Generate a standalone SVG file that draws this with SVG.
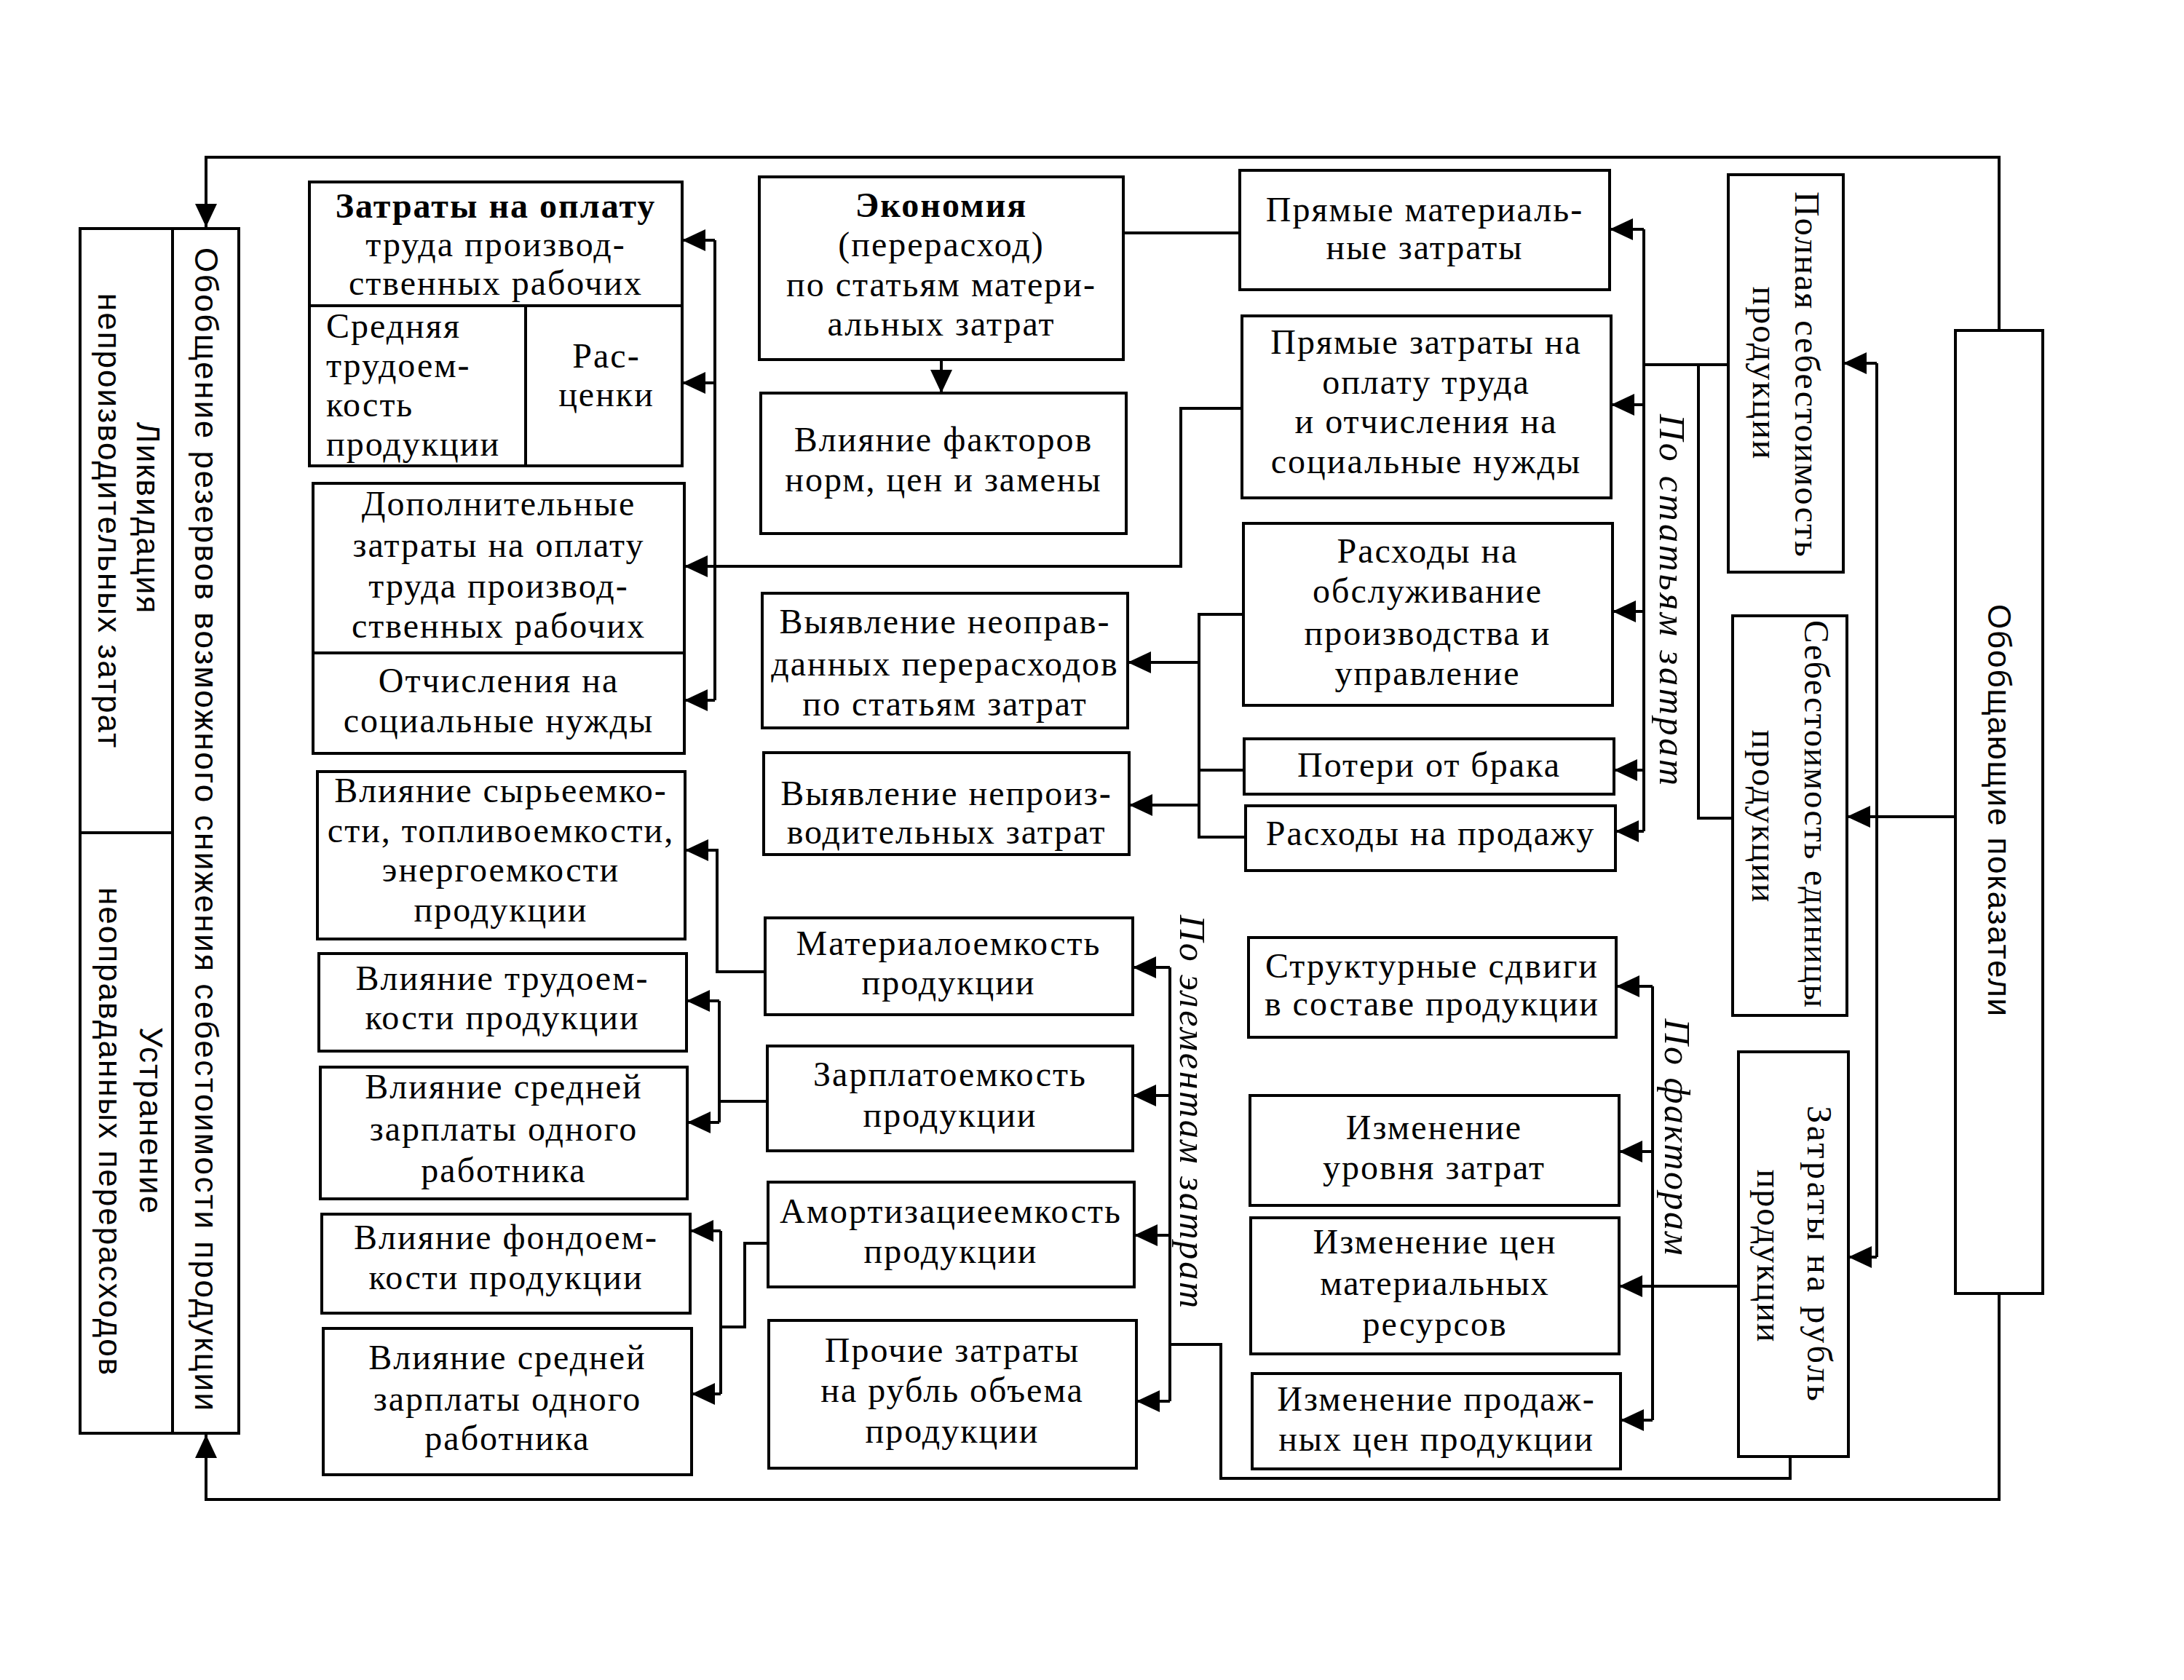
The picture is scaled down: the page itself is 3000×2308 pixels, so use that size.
<svg xmlns="http://www.w3.org/2000/svg" width="3000" height="2308" viewBox="0 0 3000 2308">
<defs>
<marker id="ar" viewBox="0 0 32 30" refX="32" refY="15" markerWidth="32" markerHeight="30" markerUnits="userSpaceOnUse" orient="auto">
<path d="M0,0 L32,15 L0,30 Z" fill="#000"/>
</marker>
<style>
.b{fill:#fff;stroke:#000;stroke-width:4}
.t{font-family:"Liberation Serif",serif;font-size:48px;letter-spacing:2px;text-anchor:middle;dominant-baseline:central;fill:#000}
.tb{font-weight:bold}
.tl{text-anchor:start}
.s{font-family:"Liberation Sans",sans-serif;font-size:44px;letter-spacing:2px;text-anchor:middle;dominant-baseline:central;fill:#000}
.i{font-family:"Liberation Serif",serif;font-style:italic;font-size:50px;text-anchor:middle;dominant-baseline:central;fill:#000}
.c{fill:none;stroke:#000;stroke-width:4}
.a{marker-end:url(#ar)}
</style>
</defs>
<rect width="3000" height="2308" fill="#fff"/>

<g id="connectors">
<path class="c" d="M2746,454 V216 H283 V312" stroke-width="5"/>
<path class="c a" d="M283,260 V312"/>
<path class="c a" d="M2746,1777 V2060 H283 V1971"/>
<path class="c a" d="M1293,494 V540"/>
<path class="c" d="M1543,320 H1703"/>
<path class="c a" d="M1706,561 H1622 V778 H940"/>
<path class="c" d="M982,330 V962"/>
<path class="c a" d="M982,330 H937"/>
<path class="c a" d="M982,526 H937"/>
<path class="c a" d="M982,962 H940"/>
<path class="c a" d="M1051,1335 H985 V1168 H941"/>
<path class="c" d="M1054,1513 H988"/>
<path class="c" d="M988,1375 V1542"/>
<path class="c a" d="M988,1375 H943"/>
<path class="c a" d="M988,1542 H944"/>
<path class="c" d="M1055,1708 H1023 V1823 H990"/>
<path class="c" d="M990,1691 V1915"/>
<path class="c a" d="M990,1691 H948"/>
<path class="c a" d="M990,1915 H950"/>
<path class="c" d="M1708,844 H1647 V1150 H1711"/>
<path class="c" d="M1709,1058 H1647"/>
<path class="c a" d="M1647,910 H1549"/>
<path class="c a" d="M1647,1106 H1551"/>
<path class="c" d="M2258,315 V1142"/>
<path class="c a" d="M2258,315 H2211"/>
<path class="c a" d="M2258,556 H2213"/>
<path class="c a" d="M2258,840 H2215"/>
<path class="c a" d="M2258,1058 H2217"/>
<path class="c a" d="M2258,1142 H2219"/>
<path class="c" d="M2376,501 H2258"/>
<path class="c" d="M2380,1124 H2333 V501"/>
<path class="c" d="M2578,499 V1727"/>
<path class="c a" d="M2578,499 H2532"/>
<path class="c a" d="M2578,1727 H2539"/>
<path class="c a" d="M2686,1122 H2537"/>
<path class="c" d="M2270,1355 V1951"/>
<path class="c a" d="M2270,1355 H2220"/>
<path class="c a" d="M2270,1582 H2224"/>
<path class="c a" d="M2388,1767 H2224"/>
<path class="c a" d="M2270,1951 H2226"/>
<path class="c" d="M2459,2001 V2031 H1677 V1847 H1607"/>
<path class="c" d="M1607,1329 V1925"/>
<path class="c a" d="M1607,1329 H1556"/>
<path class="c a" d="M1607,1505 H1556"/>
<path class="c a" d="M1607,1697 H1558"/>
<path class="c a" d="M1607,1925 H1561"/>
</g>

<g id="labels">
<text class="i" x="2297" y="824" transform="rotate(90 2297 824)" textLength="510" lengthAdjust="spacing">По статьям затрат</text>
<text class="i" x="2304" y="1562" transform="rotate(90 2304 1562)" textLength="325" lengthAdjust="spacing">По факторам</text>
<text class="i" x="1638" y="1527" transform="rotate(90 1638 1527)" textLength="540" lengthAdjust="spacing">По элементам затрат</text>
</g>

<g id="n-likvidaciya">
<rect class="b" x="110" y="314" width="127" height="830"/>
<text class="s" x="203" y="712" transform="rotate(90 203 712)">Ликвидация</text>
<text class="s" x="150" y="716" transform="rotate(90 150 716)">непроизводительных затрат</text>
</g>
<g id="n-ustranenie">
<rect class="b" x="110" y="1144" width="127" height="825"/>
<text class="s" x="207" y="1540" transform="rotate(90 207 1540)">Устранение</text>
<text class="s" x="151" y="1555" transform="rotate(90 151 1555)">неоправданных перерасходов</text>
</g>
<g id="n-obobshenie">
<rect class="b" x="237" y="314" width="91" height="1655"/>
<text class="s" x="283" y="1140" transform="rotate(90 283 1140)" textLength="1600" lengthAdjust="spacing">Обобщение резервов возможного снижения себестоимости продукции</text>
</g>

<g id="n-zatraty-oplata">
<rect class="b" x="425" y="250" width="512" height="170"/>
<text class="t tb" x="681" y="282">Затраты на оплату</text>
<text class="t" x="681" y="335">труда производ-</text>
<text class="t" x="681" y="388">ственных рабочих</text>
</g>
<g id="n-srednyaya-trudoemkost">
<rect class="b" x="425" y="420" width="297" height="220"/>
<text class="t tl" x="448" y="447">Средняя</text>
<text class="t tl" x="448" y="501">трудоем-</text>
<text class="t tl" x="448" y="555">кость</text>
<text class="t tl" x="448" y="609">продукции</text>
</g>
<g id="n-rascenki">
<rect class="b" x="722" y="420" width="215" height="220"/>
<text class="t" x="833" y="488">Рас-</text>
<text class="t" x="833" y="541">ценки</text>
</g>
<g id="n-dopolnitelnye">
<rect class="b" x="430" y="664" width="510" height="233"/>
<text class="t" x="685" y="691">Дополнительные</text>
<text class="t" x="685" y="748">затраты на оплату</text>
<text class="t" x="685" y="804">труда производ-</text>
<text class="t" x="685" y="859">ственных рабочих</text>
</g>
<g id="n-otchisleniya">
<rect class="b" x="430" y="897" width="510" height="138"/>
<text class="t" x="685" y="934">Отчисления на</text>
<text class="t" x="685" y="989">социальные нужды</text>
</g>
<g id="n-syrieemkost">
<rect class="b" x="436" y="1060" width="505" height="230"/>
<text class="t" x="688" y="1085">Влияние сырьеемко-</text>
<text class="t" x="688" y="1140">сти, топливоемкости,</text>
<text class="t" x="688" y="1194">энергоемкости</text>
<text class="t" x="688" y="1249">продукции</text>
</g>
<g id="n-trudoemkost">
<rect class="b" x="438" y="1310" width="505" height="134"/>
<text class="t" x="690" y="1343">Влияние трудоем-</text>
<text class="t" x="690" y="1397">кости продукции</text>
</g>
<g id="n-zarplata1">
<rect class="b" x="440" y="1466" width="504" height="181"/>
<text class="t" x="692" y="1492">Влияние средней</text>
<text class="t" x="692" y="1550">зарплаты одного</text>
<text class="t" x="692" y="1607">работника</text>
</g>
<g id="n-fondoemkost">
<rect class="b" x="442" y="1668" width="506" height="136"/>
<text class="t" x="695" y="1699">Влияние фондоем-</text>
<text class="t" x="695" y="1754">кости продукции</text>
</g>
<g id="n-zarplata2">
<rect class="b" x="444" y="1825" width="506" height="201"/>
<text class="t" x="697" y="1864">Влияние средней</text>
<text class="t" x="697" y="1921">зарплаты одного</text>
<text class="t" x="697" y="1975">работника</text>
</g>

<g id="n-ekonomiya">
<rect class="b" x="1043" y="243" width="500" height="251"/>
<text class="t tb" x="1293" y="281">Экономия</text>
<text class="t" x="1293" y="335">(перерасход)</text>
<text class="t" x="1293" y="390">по статьям матери-</text>
<text class="t" x="1293" y="444">альных затрат</text>
</g>
<g id="n-vliyanie-faktorov">
<rect class="b" x="1045" y="540" width="502" height="193"/>
<text class="t" x="1296" y="603">Влияние факторов</text>
<text class="t" x="1296" y="658">норм, цен и замены</text>
</g>
<g id="n-neopravdannye">
<rect class="b" x="1047" y="815" width="502" height="185"/>
<text class="t" x="1298" y="853">Выявление неоправ-</text>
<text class="t" x="1298" y="911">данных перерасходов</text>
<text class="t" x="1298" y="966">по статьям затрат</text>
</g>
<g id="n-neproizvoditelnye">
<rect class="b" x="1049" y="1034" width="502" height="140"/>
<text class="t" x="1300" y="1089">Выявление непроиз-</text>
<text class="t" x="1300" y="1142">водительных затрат</text>
</g>
<g id="n-materialoemkost">
<rect class="b" x="1051" y="1261" width="505" height="133"/>
<text class="t" x="1303" y="1295">Материалоемкость</text>
<text class="t" x="1303" y="1349">продукции</text>
</g>
<g id="n-zarplatoemkost">
<rect class="b" x="1054" y="1437" width="502" height="144"/>
<text class="t" x="1305" y="1475">Зарплатоемкость</text>
<text class="t" x="1305" y="1531">продукции</text>
</g>
<g id="n-amortizacieemkost">
<rect class="b" x="1055" y="1624" width="503" height="144"/>
<text class="t" x="1306" y="1663">Амортизациеемкость</text>
<text class="t" x="1306" y="1718">продукции</text>
</g>
<g id="n-prochie">
<rect class="b" x="1056" y="1814" width="505" height="203"/>
<text class="t" x="1308" y="1854">Прочие затраты</text>
<text class="t" x="1308" y="1909">на рубль объема</text>
<text class="t" x="1308" y="1965">продукции</text>
</g>

<g id="n-pryamye-materialnye">
<rect class="b" x="1703" y="234" width="508" height="164"/>
<text class="t" x="1957" y="287">Прямые материаль-</text>
<text class="t" x="1957" y="339">ные затраты</text>
</g>
<g id="n-pryamye-oplata">
<rect class="b" x="1706" y="434" width="507" height="250"/>
<text class="t" x="1959" y="469">Прямые затраты на</text>
<text class="t" x="1959" y="524">оплату труда</text>
<text class="t" x="1959" y="578">и отчисления на</text>
<text class="t" x="1959" y="633">социальные нужды</text>
</g>
<g id="n-obsluzhivanie">
<rect class="b" x="1708" y="719" width="507" height="250"/>
<text class="t" x="1961" y="756">Расходы на</text>
<text class="t" x="1961" y="811">обслуживание</text>
<text class="t" x="1961" y="869">производства и</text>
<text class="t" x="1961" y="924">управление</text>
</g>
<g id="n-poteri">
<rect class="b" x="1709" y="1015" width="508" height="76"/>
<text class="t" x="1963" y="1050">Потери от брака</text>
</g>
<g id="n-prodazha">
<rect class="b" x="1711" y="1107" width="508" height="89"/>
<text class="t" x="1965" y="1144">Расходы на продажу</text>
</g>
<g id="n-strukturnye">
<rect class="b" x="1715" y="1288" width="505" height="137"/>
<text class="t" x="1967" y="1326">Структурные сдвиги</text>
<text class="t" x="1967" y="1378">в составе продукции</text>
</g>
<g id="n-uroven">
<rect class="b" x="1717" y="1505" width="507" height="151"/>
<text class="t" x="1970" y="1548">Изменение</text>
<text class="t" x="1970" y="1603">уровня затрат</text>
</g>
<g id="n-ceny-resursov">
<rect class="b" x="1718" y="1673" width="506" height="187"/>
<text class="t" x="1971" y="1705">Изменение цен</text>
<text class="t" x="1971" y="1762">материальных</text>
<text class="t" x="1971" y="1818">ресурсов</text>
</g>
<g id="n-prodazhnye-ceny">
<rect class="b" x="1720" y="1887" width="506" height="131"/>
<text class="t" x="1973" y="1921">Изменение продаж-</text>
<text class="t" x="1973" y="1976">ных цен продукции</text>
</g>

<g id="n-polnaya">
<rect class="b" x="2374" y="240" width="158" height="546"/>
<text class="t" x="2482" y="515" transform="rotate(90 2482 515)" textLength="504" lengthAdjust="spacing">Полная себестоимость</text>
<text class="t" x="2424" y="513" transform="rotate(90 2424 513)">продукции</text>
</g>
<g id="n-edinica">
<rect class="b" x="2380" y="846" width="157" height="549"/>
<text class="t" x="2495" y="1119" transform="rotate(90 2495 1119)" textLength="534" lengthAdjust="spacingAndGlyphs">Себестоимость единицы</text>
<text class="t" x="2423" y="1122" transform="rotate(90 2423 1122)">продукции</text>
</g>
<g id="n-na-rubl">
<rect class="b" x="2388" y="1445" width="151" height="556"/>
<text class="t" x="2499" y="1723" transform="rotate(90 2499 1723)" textLength="408" lengthAdjust="spacing">Затраты на рубль</text>
<text class="t" x="2430" y="1726" transform="rotate(90 2430 1726)">продукции</text>
</g>
<g id="n-obobshayushie">
<rect class="b" x="2686" y="454" width="120" height="1323"/>
<text class="s" x="2746" y="1114" transform="rotate(90 2746 1114)" textLength="568" lengthAdjust="spacing">Обобщающие показатели</text>
</g>
</svg>
